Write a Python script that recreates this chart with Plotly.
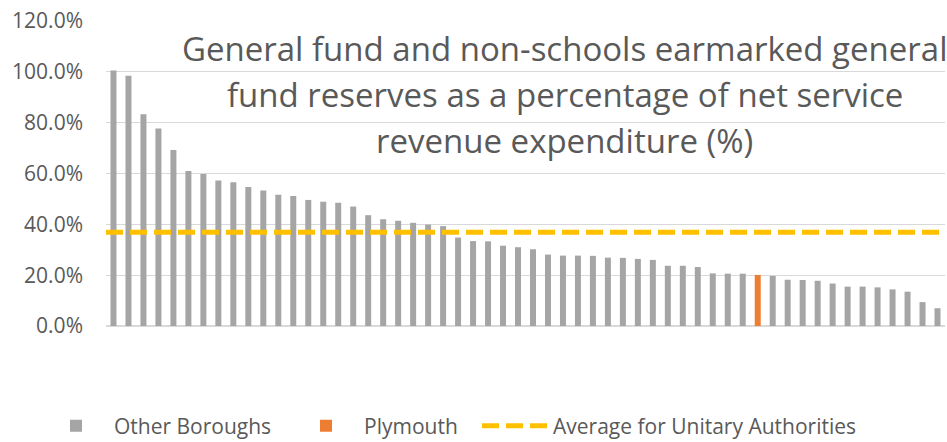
import plotly.graph_objects as go

categories = [f"Authority {i+1}" for i in range(56)]
values = [100.5, 98.5, 83.3, 77.7, 69.2, 61.0, 59.8, 57.2, 56.6, 54.7,
          53.3, 51.6, 51.1, 49.6, 48.9, 48.5, 47.0, 43.6, 42.0, 41.4,
          40.6, 39.9, 39.3, 34.8, 33.4, 33.3, 31.6, 31.0, 30.2, 28.1,
          27.7, 27.7, 27.6, 26.9, 26.8, 26.4, 26.0, 23.7, 23.7, 23.2,
          20.7, 20.6, 20.6, 20.1, 19.7, 18.2, 18.1, 17.8, 16.7, 15.5,
          15.5, 15.2, 14.4, 13.5, 9.4, 7.0]
plymouth_index = 43
average_ua = 36.9
y_ticks = [0, 20, 40, 60, 80, 100, 120]
y_tick_labels = [f"{v:.1f}%" for v in y_ticks]
title_lines = ["General fund and non-schools earmarked general",
               "fund reserves as a percentage of net service",
               "revenue expenditure (%)"]

x_idx = list(range(len(categories)))
other_vals = [v if i != plymouth_index else None for i, v in enumerate(values)]
ply_vals = [v if i == plymouth_index else None for i, v in enumerate(values)]
x_lo, x_hi = -0.5, len(categories) - 0.5

FONT = "Open Sans"
GREY_TXT = "#595959"
W, H = 947, 442

fig = go.Figure()
fig.add_trace(go.Bar(x=x_idx, y=other_vals, name="Other Boroughs",
                     marker=dict(color="#A5A5A5", line=dict(width=0)),
                     hovertext=categories, legend="legend"))
fig.add_trace(go.Bar(x=x_idx, y=ply_vals, name="Plymouth",
                     marker=dict(color="#ED7D31", line=dict(width=0)),
                     hovertext=categories, legend="legend2"))
fig.add_trace(go.Scatter(x=[x_lo, x_hi], y=[average_ua, average_ua], mode="lines",
                         name="Average for Unitary Authorities",
                         line=dict(color="#FFC000", width=5, dash="17px,7px"),
                         legend="legend3"))

for i, t in enumerate(title_lines):
    fig.add_annotation(text=t, xref="paper", yref="paper", x=0.547,
                       y=(326 - (48 + 46 * i)) / 305, xanchor="center", yanchor="middle",
                       showarrow=False, font=dict(family=FONT, size=33, color=GREY_TXT))


def leg(xpx):
    return dict(orientation="h", x=xpx / W, xref="container", xanchor="left",
                y=(326 - 426) / 305, yref="paper", yanchor="middle",
                font=dict(family=FONT, size=21, color=GREY_TXT),
                itemwidth=66, bgcolor="rgba(0,0,0,0)")


fig.update_layout(
    width=W, height=H,
    margin=dict(l=105.5, r=1.5, t=21, b=116, autoexpand=False),
    paper_bgcolor="white", plot_bgcolor="white",
    barmode="overlay", bargap=0.6,
    font=dict(family=FONT, color=GREY_TXT),
    showlegend=True,
    legend=leg(38), legend2=leg(288), legend3=leg(477),
    xaxis=dict(range=[x_lo, x_hi], showticklabels=False, showgrid=False,
               zeroline=False, showline=False, ticks=""),
    yaxis=dict(range=[0, 120], tickvals=y_ticks, ticktext=y_tick_labels,
               showgrid=True, gridcolor="#D9D9D9", gridwidth=1, zeroline=True,
               zerolinecolor="#D9D9D9", zerolinewidth=1.5,
               tickfont=dict(family=FONT, size=21, color=GREY_TXT), ticks="",
               ticklabelstandoff=22),
)

fig.write_html("out.html")
